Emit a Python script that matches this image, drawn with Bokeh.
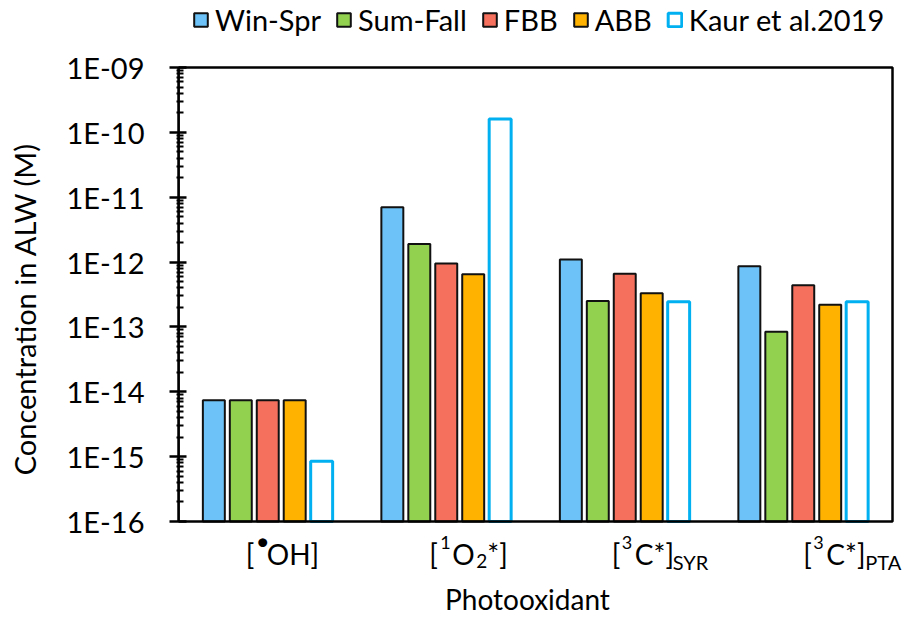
from bokeh.plotting import figure
from bokeh.models import (Range1d, FixedTicker, CustomJSTickFormatter,
                          Legend, LegendItem, Label)
from bokeh.embed import file_html
from bokeh.resources import INLINE

# ---------------- data ----------------
categories = ["OH", "O2", "SYR", "PTA"]
series_names = ["Win-Spr", "Sum-Fall", "FBB", "ABB", "Kaur et al.2019"]
win_spr = [7.4e-15, 7.0e-12, 1.1e-12, 8.6e-13]
sum_fall = [7.4e-15, 1.9e-12, 2.5e-13, 8.4e-14]
fbb = [7.4e-15, 9.5e-13, 6.6e-13, 4.4e-13]
abb = [7.4e-15, 6.5e-13, 3.3e-13, 2.2e-13]
kaur = [8.5e-16, 1.6e-10, 2.45e-13, 2.45e-13]
y_tick_exponents = [-16, -15, -14, -13, -12, -11, -10, -9]

FONT = "Lato"
fill_colors = ["#6DC3F7", "#92D050", "#F6705E", "#FFB300", "#FFFFFF"]
line_colors = ["#111111", "#111111", "#111111", "#111111", "#00B0F0"]
line_widths = [2, 2, 2, 2, 3]
series = [win_spr, sum_fall, fbb, abb, kaur]

ymin, ymax = 10.0 ** y_tick_exponents[0], 10.0 ** y_tick_exponents[-1]

# ---------------- layout (pixels) ----------------
W, H = 906, 617
BL = 178
UNIT_PX = 178.5                      # width of one category
AX_TOP, AX_BOTTOM = 67, 521          # where 1E-09 and 1E-16 sit on the canvas
decade_px = (AX_BOTTOM - AX_TOP) / (y_tick_exponents[-1] - y_tick_exponents[0])
y_lo = 10.0 ** (y_tick_exponents[0] - (H - AX_BOTTOM) / decade_px)
y_hi = 10.0 ** (y_tick_exponents[-1] + AX_TOP / decade_px)
n_cat = len(categories)
x_end = (W - BL) / UNIT_PX

def y_below(px):
    """data y that lies px pixels below the 1E-16 axis line"""
    return 10.0 ** (y_tick_exponents[0] - px / decade_px)

p = figure(width=W, height=H, x_range=Range1d(0, x_end), y_range=Range1d(y_lo, y_hi),
           y_axis_type="log", output_backend="svg", toolbar_location=None,
           min_border_left=BL, min_border_right=0, min_border_top=0, min_border_bottom=0)
p.xaxis.visible = False
p.xgrid.visible = False
p.ygrid.visible = False
p.outline_line_color = None
p.background_fill_color = None

step = 0.151
width = 0.123
centers = [i + 0.5 for i in range(n_cat)]
renderers = []
for k, (vals, fc, lc, lw) in enumerate(zip(series, fill_colors, line_colors, line_widths)):
    src = {"x": [c + (k - 2) * step for c in centers], "val": vals, "bottom": [ymin] * n_cat}
    r = p.vbar(x="x", top="val", bottom="bottom", width=width, source=src,
               fill_color=fc, line_color=lc, line_width=lw)
    renderers.append(r)

# plot-area box (frame of the chart)
p.quad(left=[0], right=[n_cat], bottom=[ymin], top=[ymax], fill_color=None,
       line_color="black", line_width=2.5)

yax = p.yaxis[0]
yax.bounds = (ymin, ymax)
yax.ticker = FixedTicker(ticks=[10.0 ** e for e in y_tick_exponents],
                         minor_ticks=[k * 10.0 ** e for e in y_tick_exponents[:-1] for k in range(2, 10)])
yax.formatter = CustomJSTickFormatter(code="""
const e = Math.round(Math.log10(tick));
const a = Math.abs(e);
return "1E" + (e < 0 ? "-" : "+") + (a < 10 ? "0" + a : "" + a);
""")
yax.major_label_text_font = FONT
yax.major_label_text_font_size = "29px"
yax.major_label_text_color = "black"
yax.major_label_standoff = 25
yax.axis_line_width = 2.5
yax.axis_line_color = "black"
yax.major_tick_in = 8
yax.major_tick_out = 9
yax.major_tick_line_width = 2.5
yax.minor_tick_in = 5
yax.minor_tick_out = 2
yax.minor_tick_line_width = 2
yax.axis_label = "Concentration in ALW (M)"
yax.axis_label_text_font = FONT
yax.axis_label_text_font_size = "29px"
yax.axis_label_text_font_style = "normal"
yax.axis_label_text_color = "black"
yax.axis_label_standoff = 22

# category labels composed of pieces (text, size px, dx from category centre, baseline px below axis)
label_pieces = {
    "OH": [("[", 28, -22, 32), ("\u2022", 24, -12, 19), ("OH]", 28, -1, 32)],
    "O2": [("[", 28, -17, 32), ("1", 18, -6, 21), ("O", 28, 6, 32), ("2", 19, 30, 39),
           ("*", 28, 41, 32), ("]", 28, 53, 32)],
    "SYR": [("[", 28, -13, 32), ("3", 18, -3, 21), ("C*]", 28, 10, 32), ("SYR", 20, 48, 40)],
    "PTA": [("[", 28, 0, 32), ("3", 18, 10, 21), ("C*]", 28, 23, 32), ("PTA", 20, 62, 40)],
}
for c, cat in zip(centers, categories):
    for txt, size, dx, by in label_pieces[cat]:
        p.add_layout(Label(x=c, y=y_below(by), x_offset=dx, text=txt,
                           text_font=FONT, text_font_size=f"{size}px", text_color="black",
                           text_align="left", text_baseline="alphabetic"))

# x-axis title
p.add_layout(Label(x=n_cat / 2, y=y_below(77), x_offset=-8, text="Photooxidant",
                   text_font=FONT, text_font_size="28px", text_color="black",
                   text_align="center", text_baseline="alphabetic"))

legend = Legend(items=[LegendItem(label=n, renderers=[r]) for n, r in zip(series_names, renderers)],
                orientation="horizontal", location=(14, H - 37),
                label_text_font=FONT, label_text_font_size="29px", label_text_color="black",
                glyph_width=17, glyph_height=17, label_standoff=6, spacing=14,
                padding=0, margin=0, border_line_alpha=0, background_fill_alpha=0)
p.add_layout(legend, "center")

open("out.html", "w").write(file_html(p, INLINE))
